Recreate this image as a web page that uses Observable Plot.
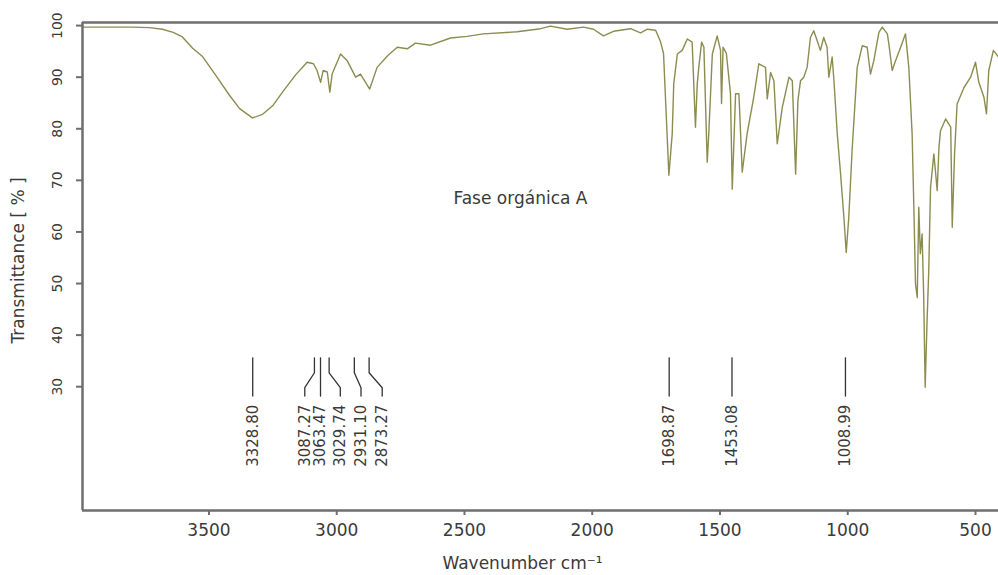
<!DOCTYPE html>
<html>
<head>
<meta charset="utf-8">
<script src="https://cdn.jsdelivr.net/npm/d3@7"></script>
<script src="https://cdn.jsdelivr.net/npm/@observablehq/plot@0.6"></script>
<style>
  html, body { margin: 0; padding: 0; background: #fff; overflow: hidden; }
  #chart svg { display: block; }
</style>
</head>
<body>
<div id="chart"></div>
<script>
// Spectrum (wavenumber in cm-1, transmittance in %)
const wavenumber = [3995, 3900, 3800, 3733, 3682, 3640, 3604, 3564, 3525, 3474, 3420, 3380, 3330, 3290, 3250, 3208, 3160, 3116, 3091, 3077, 3063, 3053, 3037, 3027, 3018, 2985, 2959, 2926, 2907, 2871, 2842, 2800, 2763, 2724, 2692, 2633, 2555, 2490, 2426, 2294, 2202, 2163, 2098, 2034, 1995, 1956, 1917, 1850, 1811, 1784, 1752, 1733, 1721, 1700, 1687, 1681, 1667, 1648, 1628, 1609, 1596, 1589, 1583, 1572, 1563, 1550, 1544, 1530, 1511, 1498, 1494, 1488, 1475, 1459, 1452, 1439, 1426, 1413, 1394, 1368, 1348, 1322, 1315, 1302, 1289, 1276, 1256, 1230, 1217, 1204, 1195, 1185, 1172, 1159, 1146, 1133, 1120, 1107, 1094, 1081, 1074, 1061, 1054, 1041, 1028, 1015, 1006, 996, 983, 963, 943, 924, 911, 898, 878, 865, 845, 839, 826, 813, 793, 774, 761, 748, 740, 735, 728, 722, 716, 709, 703, 697, 690, 683, 676, 663, 657, 650, 643, 637, 617, 597, 591, 582, 572, 545, 519, 500, 487, 467, 457, 448, 430, 410];
const transmittance = [99.7, 99.7, 99.7, 99.6, 99.3, 98.7, 97.8, 95.6, 94.0, 90.4, 86.5, 83.9, 82.1, 82.8, 84.5, 87.4, 90.5, 92.9, 92.6, 91.3, 89.0, 91.3, 91.0, 87.1, 90.6, 94.5, 93.2, 90.0, 90.6, 87.7, 91.9, 94.2, 95.8, 95.5, 96.6, 96.2, 97.6, 97.9, 98.4, 98.8, 99.4, 99.9, 99.3, 99.7, 99.3, 98.0, 98.9, 99.4, 98.6, 99.3, 99.1, 96.9, 94.6, 71.0, 79.0, 88.7, 94.5, 95.2, 97.4, 96.8, 80.3, 88.7, 91.9, 96.8, 95.8, 73.5, 79.0, 94.5, 98.0, 95.2, 84.9, 95.8, 94.6, 86.8, 68.3, 86.8, 86.8, 71.6, 79.0, 86.1, 92.6, 91.9, 85.8, 90.9, 89.3, 77.1, 84.2, 90.0, 89.3, 71.2, 85.5, 89.3, 90.0, 91.9, 97.7, 99.0, 97.1, 95.2, 97.7, 95.8, 90.0, 93.9, 89.3, 79.0, 71.2, 62.8, 56.0, 62.8, 75.8, 91.9, 96.1, 95.8, 90.6, 93.2, 98.7, 99.7, 98.4, 96.4, 91.3, 93.2, 95.8, 98.4, 91.9, 79.0, 62.0, 50.0, 47.3, 64.8, 55.8, 59.6, 48.0, 29.9, 42.0, 52.5, 68.6, 75.1, 71.9, 68.0, 76.4, 79.6, 81.9, 80.3, 60.9, 75.1, 84.8, 88.0, 90.0, 92.9, 89.0, 86.1, 82.9, 91.3, 95.2, 93.9];

// Peak annotations
const peaks = [3328.80, 3087.27, 3063.47, 3029.74, 2931.10, 2873.27, 1698.87, 1453.08, 1008.99];
const peakLabelAt = [3328.80, 3125, 3063.47, 2986, 2905, 2822, 1698.87, 1453.08, 1008.99];

const xTicks = [3500, 3000, 2500, 2000, 1500, 1000, 500];
const yTicks = [30, 40, 50, 60, 70, 80, 90, 100];
const xDomain = [3995, 410];
const yDomain = [6, 100.6];

const title = "Fase orgánica A";
const titlePos = [{x: 2281, y: 66.5}];

const spectrum = wavenumber.map((w, i) => ({w, t: transmittance[i]}));

// leader lines (vertical, optional bend to spread labels)
const leaders = [];
peaks.forEach((p, i) => {
  const l = peakLabelAt[i];
  leaders.push({x: p, y: 35.6, z: i});
  leaders.push({x: p, y: 32.7, z: i});
  leaders.push({x: l, y: 29.8, z: i});
  leaders.push({x: l, y: 28.2, z: i});
});

const axisGray = "#6e6e6e";
const textGray = "#3a3a3a";

const chart = Plot.plot({
  width: 998,
  height: 575,
  marginLeft: 82,
  marginRight: 0,
  marginTop: 22,
  marginBottom: 65,
  style: {fontFamily: "DejaVu Sans", background: "#fff", color: textGray},
  x: {domain: xDomain},
  y: {domain: yDomain},
  marks: [
    Plot.axisX({ticks: xTicks, tickFormat: d => String(d), tickSize: 5, tickPadding: 8, fontSize: 17, label: null, stroke: axisGray, strokeWidth: 2, fill: textGray}),
    Plot.axisY({ticks: yTicks, tickFormat: d => String(d), tickSize: 6, tickPadding: 15, tickRotate: -90, fontSize: 14, label: null, stroke: axisGray, strokeWidth: 2, fill: textGray}),
    Plot.line(spectrum, {x: "w", y: "t", stroke: "#8c8c50", strokeWidth: 1.4}),
    Plot.line(leaders, {x: "x", y: "y", z: "z", stroke: "#333", strokeWidth: 1.3}),
    Plot.text(peaks, {x: (d, i) => peakLabelAt[i], y: () => 26.5, text: d => d.toFixed(2), rotate: -90, textAnchor: "end", fontSize: 15, fill: textGray}),
    Plot.text(titlePos, {x: "x", y: "y", text: () => title, fontSize: 17, fill: textGray}),
    Plot.text([ "Transmittance [ % ]" ], {frameAnchor: "left", text: d => d, rotate: -90, textAnchor: "middle", dx: -64, dy: -6, fontSize: 17, fill: textGray}),
    Plot.text([ "Wavenumber cm⁻¹" ], {frameAnchor: "bottom", text: d => d, dx: -18, dy: 58, fontSize: 17, fill: textGray}),
    Plot.ruleY([yDomain[1]], {stroke: axisGray, strokeWidth: 2.5}),
    Plot.ruleY([yDomain[0]], {stroke: axisGray, strokeWidth: 2.5}),
    Plot.ruleX([xDomain[0]], {stroke: axisGray, strokeWidth: 2.5})
  ]
});
document.getElementById("chart").appendChild(chart);
</script>
</body>
</html>
